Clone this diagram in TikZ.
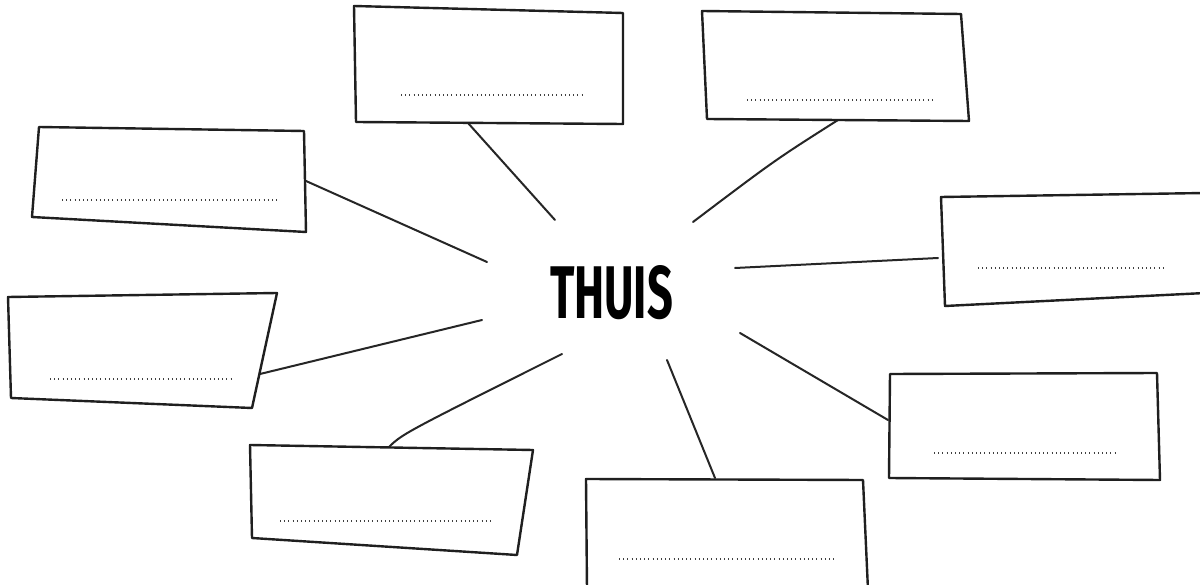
\documentclass[tikz,border=0pt]{standalone}
\usepackage{fontspec}
\setmainfont{Fira Sans}
\begin{document}
\begin{tikzpicture}[x=1pt,y=-1pt,
  boxline/.style={draw=black!88,line width=2.4pt,line join=round,fill=white},
  conn/.style={draw=black!85,line width=2pt,line cap=round},
  dotline/.style={draw=black!75,line width=1.3pt,dash pattern=on 1pt off 3.2pt}]
\useasboundingbox (0,0) rectangle (1200,585);
\fill[white] (0,0) rectangle (1200,585);

\node[inner sep=0pt] (thuis) at (611.5,292.5) {\resizebox{123pt}{53pt}{\bfseries THUIS}};

% connector inner ends
\coordinate (c1) at (555,220);
\coordinate (c2) at (693,222);
\coordinate (c3) at (487,262);
\coordinate (c4) at (482,320);
\coordinate (c5) at (735,268);
\coordinate (c6) at (740,333);
\coordinate (c7) at (562,354);
\coordinate (c8) at (667,360);

% box attachment points
\coordinate (a1) at (468,123);
\coordinate (a2) at (838,120);
\coordinate (a3) at (306,181);
\coordinate (a4) at (260,374);
\coordinate (a5) at (938,258);
\coordinate (a6) at (888,420);
\coordinate (a7) at (388,448);
\coordinate (a8) at (715,478);

\draw[conn] (a1) -- (c1);
\draw[conn] (a2) .. controls (775,160) .. (c2);
\draw[conn] (a3) -- (c3);
\draw[conn] (a4) -- (c4);
\draw[conn] (a5) -- (c5);
\draw[conn] (a6) -- (c6);
\draw[conn] (a7) .. controls (402,434) .. (c7);
\draw[conn] (a8) -- (c8);

% boxes
\draw[boxline] (354,6) -- (623,13) -- (623,124) -- (356,122) -- cycle;
\draw[dotline] (401,95) -- (585,95);

\draw[boxline] (702,11) -- (961,14) -- (969,121) -- (707,119) -- cycle;
\draw[dotline] (747,100) -- (932,100);

\draw[boxline] (39,127) -- (304,131) -- (306,232) -- (32,217) -- cycle;
\draw[dotline] (62,200) -- (277,200);

\draw[boxline] (8,297) -- (277,293) -- (252,408) -- (11,398) -- cycle;
\draw[dotline] (50,379) -- (233,379);

\draw[boxline] (1205,193) -- (941,197) -- (945,306) -- (1205,293);
\draw[dotline] (978,268) -- (1163,268);

\draw[boxline] (890,374) -- (1157,373) -- (1160,480) -- (889,478) -- cycle;
\draw[dotline] (934,453) -- (1117,453);

\draw[boxline] (250,445) -- (533,450) -- (517,555) -- (252,538) -- cycle;
\draw[dotline] (280,521) -- (493,521);

\draw[boxline] (587,590) -- (586,479) -- (863,480) -- (868,590);
\draw[dotline] (619,559) -- (837,559);
\end{tikzpicture}
\end{document}
